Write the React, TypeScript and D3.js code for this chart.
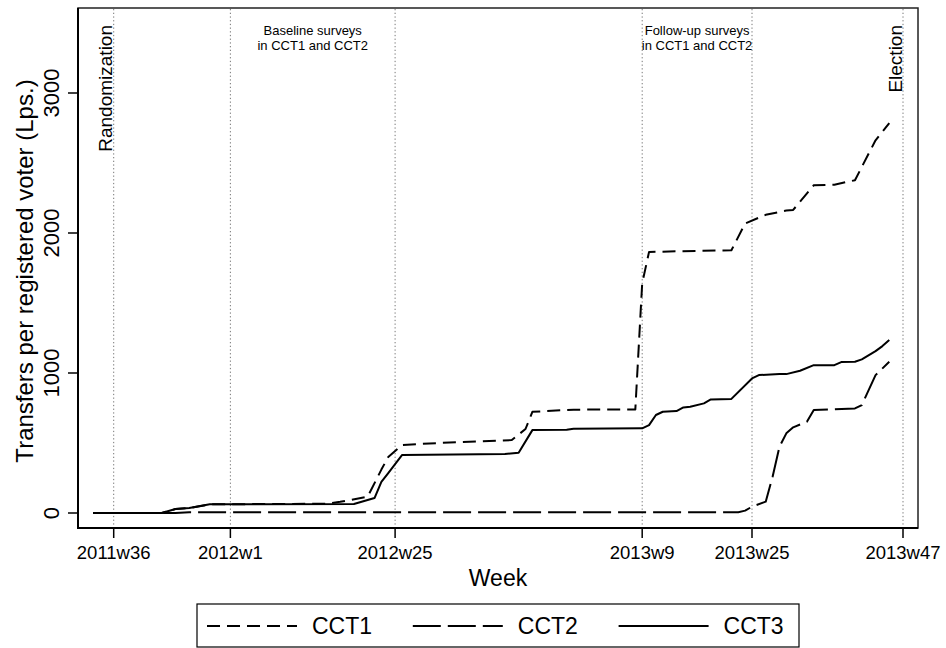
import React from "react";
import * as d3 from "d3";

// Week index: weeks since 2011w1 (52 weeks per year, Stata weekly dates)
const tickWeeks = [35, 52, 76, 112, 128, 150];
const tickLabels = ["2011w36", "2012w1", "2012w25", "2013w9", "2013w25", "2013w47"];
const yTicks = [0, 1000, 2000, 3000];

const cct1Weeks = [32, 42, 44, 46, 49, 66, 68, 72, 74, 75, 77, 81, 93, 95, 96, 102, 111, 112, 113, 125, 127, 130, 133, 134, 137, 140, 143, 146, 148];
const cct1Values = [0, 0, 28, 35, 62, 66, 80, 116, 310, 400, 485, 497, 521, 600, 723, 738, 740, 1640, 1865, 1877, 2068, 2130, 2160, 2165, 2341, 2345, 2377, 2662, 2785];

const cct2Weeks = [32, 44, 46, 126, 127, 128, 130, 131, 132, 133, 134, 136, 137, 143, 144, 146, 148];
const cct2Values = [0, 0, 5, 6, 17, 45, 81, 259, 473, 569, 612, 652, 735, 747, 771, 985, 1080];

const cct3Weeks = [32, 42, 44, 46, 49, 70, 73, 74, 75, 77, 92, 94, 96, 101, 102, 112, 113, 114, 115, 117, 118, 119, 121, 122, 125, 128, 129, 132, 133, 135, 137, 140, 141, 143, 144, 146, 147, 148];
const cct3Values = [0, 0, 28, 35, 62, 64, 107, 223, 285, 414, 421, 430, 592, 595, 602, 605, 628, 700, 723, 728, 754, 759, 783, 811, 815, 961, 985, 992, 992, 1016, 1056, 1056, 1078, 1080, 1097, 1156, 1192, 1235];

const seriesNames = ["CCT1", "CCT2", "CCT3"];
const seriesDash = ["13,7", "28,7", "none"];

const FONT = "'Liberation Sans', Arial, Helvetica, sans-serif";

export default function App() {
  const left = 78, right = 918, top = 8, bottom = 528;
  const x = d3.scaleLinear().domain([35, 150]).range([113.7, 903]);
  const y = d3.scaleLinear().domain([0, 3000]).range([513, 93]);

  const line = d3
    .line<[number, number]>()
    .x((d) => x(d[0]))
    .y((d) => y(d[1]));

  const series = [
    cct1Weeks.map((w, i) => [w, cct1Values[i]] as [number, number]),
    cct2Weeks.map((w, i) => [w, cct2Values[i]] as [number, number]),
    cct3Weeks.map((w, i) => [w, cct3Values[i]] as [number, number]),
  ];

  const legendX0 = 207;
  const legendStep = 205.8;

  return (
    <svg
      width={946}
      height={648}
      style={{ position: "absolute", left: 0, top: 0, background: "#fff" }}
      fontFamily={FONT}
    >
      <rect x={0} y={0} width={946} height={648} fill="#fff" />
      {/* dotted reference lines */}
      {tickWeeks.map((w) => (
        <line
          key={"v" + w}
          x1={x(w)}
          x2={x(w)}
          y1={top + 1}
          y2={bottom - 1}
          stroke="#777"
          strokeWidth={1}
          strokeDasharray="1.3,2.4"
        />
      ))}

      {/* series */}
      {series.map((s, i) => (
        <path
          key={seriesNames[i]}
          d={line(s) || ""}
          fill="none"
          stroke="#000"
          strokeWidth={2}
          strokeDasharray={seriesDash[i]}
          strokeLinejoin="round"
        />
      ))}

      {/* frame */}
      <rect x={left} y={top} width={right - left} height={bottom - top} fill="none" stroke="#222" strokeWidth={1.5} />
      <line x1={left} x2={left} y1={top} y2={bottom + 1} stroke="#000" strokeWidth={2} />
      <line x1={left - 1} x2={right} y1={bottom} y2={bottom} stroke="#000" strokeWidth={2} />

      {/* y axis */}
      {yTicks.map((t) => (
        <g key={"y" + t}>
          <line x1={left - 10} x2={left} y1={y(t)} y2={y(t)} stroke="#000" strokeWidth={1.5} />
          <text
            transform={`translate(59,${y(t)}) rotate(-90)`}
            textAnchor="middle"
            fontSize={22}
          >
            {t}
          </text>
        </g>
      ))}
      <text
        transform={`translate(33,${(top + bottom) / 2 + 3}) rotate(-90)`}
        textAnchor="middle"
        fontSize={24}
      >
        Transfers per registered voter (Lps.)
      </text>

      {/* x axis */}
      {tickWeeks.map((w, i) => (
        <g key={"x" + w}>
          <line x1={x(w)} x2={x(w)} y1={bottom} y2={bottom + 10} stroke="#000" strokeWidth={1.5} />
          <text x={x(w)} y={559} textAnchor="middle" fontSize={18.5}>
            {tickLabels[i]}
          </text>
        </g>
      ))}
      <text x={(left + right) / 2} y={586} textAnchor="middle" fontSize={23}>
        Week
      </text>

      {/* annotations */}
      <text transform={`translate(111.5,25) rotate(-90)`} textAnchor="end" fontSize={19}>
        Randomization
      </text>
      <text transform={`translate(901.5,25) rotate(-90)`} textAnchor="end" fontSize={19}>
        Election
      </text>
      <text x={(x(52) + x(76)) / 2} y={35} textAnchor="middle" fontSize={13}>
        Baseline surveys
      </text>
      <text x={(x(52) + x(76)) / 2} y={50} textAnchor="middle" fontSize={13}>
        in CCT1 and CCT2
      </text>
      <text x={(x(112) + x(128)) / 2} y={35} textAnchor="middle" fontSize={13}>
        Follow-up surveys
      </text>
      <text x={(x(112) + x(128)) / 2} y={50} textAnchor="middle" fontSize={13}>
        in CCT1 and CCT2
      </text>

      {/* legend */}
      <rect x={197} y={604} width={602} height={43} fill="#fff" stroke="#000" strokeWidth={1.2} />
      {seriesNames.map((n, i) => {
        const lx = legendX0 + i * legendStep;
        return (
          <g key={"lg" + n}>
            <line
              x1={lx}
              x2={lx + 90}
              y1={626}
              y2={626}
              stroke="#000"
              strokeWidth={2}
              strokeDasharray={seriesDash[i]}
            />
            <text x={lx + 105} y={634} fontSize={23}>
              {n}
            </text>
          </g>
        );
      })}
    </svg>
  );
}
